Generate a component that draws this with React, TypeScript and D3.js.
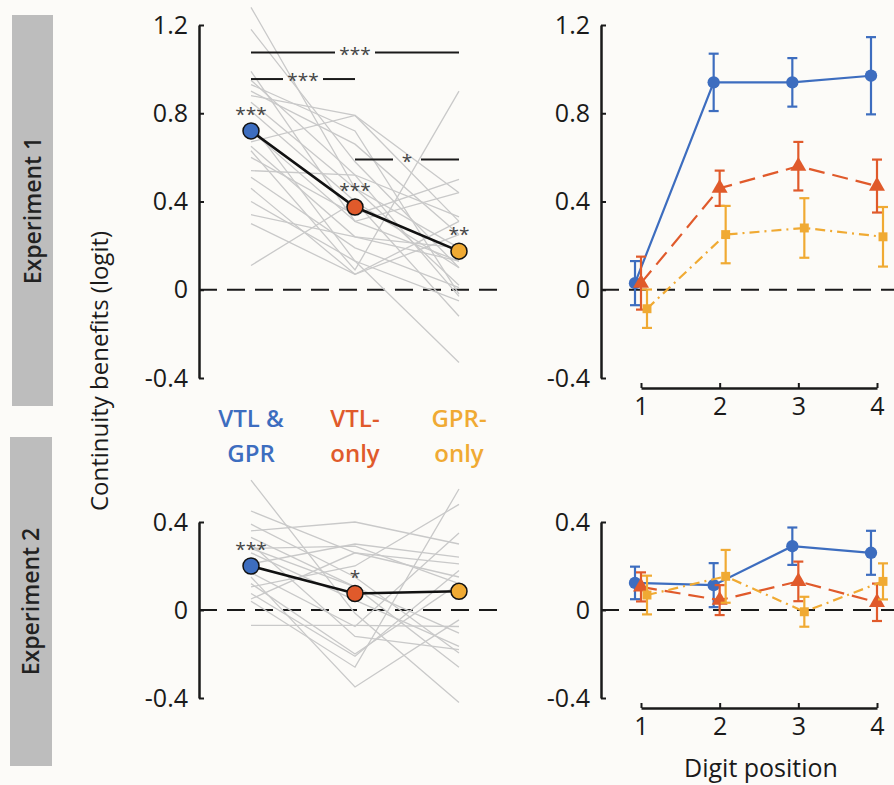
import React, { useEffect, useRef } from 'react';
import * as d3 from 'd3';

// Continuity benefits — two experiments, per-condition means (left) and by digit position (right)

const conditions = ['VTL & GPR', 'VTL-only', 'GPR-only'];
const conditionLines = [['VTL &', 'GPR'], ['VTL-', 'only'], ['GPR-', 'only']];
const conditionColors = ['#3d6dbf', '#e05a2b', '#f0aa33'];
const digitPositions = [1, 2, 3, 4];
const yTicksTop = [-0.4, 0, 0.4, 0.8, 1.2];
const yTicksBottom = [-0.4, 0, 0.4];
const experimentNames = ['Experiment 1', 'Experiment 2'];

// Experiment 1, condition means + significance vs zero
const exp1Means = [0.72, 0.375, 0.175];
const exp1Stars = ['***', '***', '**'];
// pairwise comparisons: [from, to, y, label]
const exp1Pairs: [number, number, number, string][] = [
  [0, 2, 1.075, '***'],
  [0, 1, 0.955, '***'],
  [1, 2, 0.59, '*'],
];
// individual participants (VTL&GPR, VTL-only, GPR-only)
const exp1Subjects = [
  [1.28, 0.46, 0.19], [1.18, 0.58, 0.1], [0.99, 0.31, 0.13], [0.93, 0.72, -0.02],
  [0.9, 0.66, 0.25], [0.88, 0.79, 0.31], [0.81, 0.4, -0.12], [0.95, 0.52, 0.33],
  [0.67, 0.79, 0.44], [0.65, 0.24, 0.13], [0.63, 0.09, 0.9], [0.6, 0.34, 0.5],
  [0.54, 0.52, -0.03], [0.51, 0.19, 0.01], [0.46, 0.07, 0.31], [0.4, 0.13, -0.33],
  [0.34, 0.24, 0.19], [0.3, 0.07, 0.25], [0.11, 0.4, 0.1], [0.72, 0.31, 0.44],
  [0.85, 0.46, 0.02], [0.75, 0.13, -0.05],
];

// Experiment 2
const exp2Means = [0.2, 0.075, 0.085];
const exp2Stars = ['***', '*', ''];
const exp2Pairs: [number, number, number, string][] = [];
const exp2Subjects = [
  [0.59, -0.015, -0.42], [0.45, 0.26, 0.21], [0.39, 0.15, -0.195], [0.36, 0.4, 0.3],
  [0.33, 0.105, -0.26], [0.28, 0.29, 0.12], [0.26, 0.045, -0.165], [0.21, 0.3, 0.24],
  [0.17, -0.075, 0.35], [0.105, 0.2, 0.48], [0.075, -0.21, 0.18], [0.04, -0.26, 0.55],
  [-0.07, -0.07, -0.075], [0.15, -0.35, -0.045], [0.28, 0.105, -0.105], [0.05, 0.26, 0.15],
  [0.3, -0.12, -0.18], [0.12, -0.2, 0.12],
];

// By digit position: mean and half error bar
const exp1VtlGpr = [0.03, 0.94, 0.94, 0.97];
const exp1VtlGprErr = [0.1, 0.13, 0.11, 0.175];
const exp1VtlOnly = [0.03, 0.46, 0.56, 0.47];
const exp1VtlOnlyErr = [0.12, 0.08, 0.11, 0.12];
const exp1GprOnly = [-0.086, 0.25, 0.28, 0.24];
const exp1GprOnlyErr = [0.087, 0.13, 0.135, 0.135];

const exp2VtlGpr = [0.123, 0.113, 0.29, 0.26];
const exp2VtlGprErr = [0.074, 0.1, 0.085, 0.1];
const exp2VtlOnly = [0.105, 0.045, 0.13, 0.035];
const exp2VtlOnlyErr = [0.066, 0.068, 0.09, 0.085];
const exp2GprOnly = [0.068, 0.153, -0.008, 0.13];
const exp2GprOnlyErr = [0.088, 0.12, 0.068, 0.082];

const FONT = '"Open Sans", "Noto Sans", sans-serif';
const INK = '#1a1a1a';

export default function App() {
  const svgRef = useRef<SVGSVGElement>(null);

  useEffect(() => {
    document.body.style.margin = '0';
    const width = 894, height = 785;
    const svg = d3.select(svgRef.current).attr('width', width).attr('height', height);
    svg.selectAll('*').remove();
    svg.append('rect').attr('width', width).attr('height', height).attr('fill', '#fcfbf8');

    const xCat = d3.scalePoint<string>().domain(conditions).range([251, 459]);
    const xDigit = d3.scaleLinear().domain([1, 4]).range([641, 877]);
    const digitOffset = [-6, 0, 6];
    const leftAxisX = 199, rightAxisX = 601;

    const panels = [
      {
        y: d3.scaleLinear().domain([-0.4, 1.2]).range([378, 25]), ticks: yTicksTop,
        subjects: exp1Subjects, means: exp1Means, stars: exp1Stars, pairs: exp1Pairs,
        series: [[exp1VtlGpr, exp1VtlGprErr], [exp1VtlOnly, exp1VtlOnlyErr], [exp1GprOnly, exp1GprOnlyErr]],
        box: [12, 15, 41, 391],
      },
      {
        y: d3.scaleLinear().domain([-0.4, 0.4]).range([698, 522]), ticks: yTicksBottom,
        subjects: exp2Subjects, means: exp2Means, stars: exp2Stars, pairs: exp2Pairs,
        series: [[exp2VtlGpr, exp2VtlGprErr], [exp2VtlOnly, exp2VtlOnlyErr], [exp2GprOnly, exp2GprOnlyErr]],
        box: [10, 437, 42, 329],
      },
    ];

    const styleAxis = (sel: any) => {
      sel.select('.domain').attr('stroke', INK).attr('stroke-width', 2.5);
      sel.selectAll('.tick line').attr('stroke', INK).attr('stroke-width', 2);
      sel.selectAll('.tick text').attr('fill', INK).attr('font-size', 25).attr('font-family', FONT);
    };
    const fmt = (d: number) => (d === 0 ? '0' : d.toFixed(1));

    panels.forEach((p, pi) => {
      const y = p.y;

      // experiment side box
      const [bx, by, bw, bh] = p.box;
      svg.append('rect').attr('x', bx).attr('y', by).attr('width', bw).attr('height', bh).attr('fill', '#bdbdbd');
      svg.append('text')
        .attr('transform', `translate(${bx + bw / 2 + 8},${by + bh / 2}) rotate(-90)`)
        .attr('text-anchor', 'middle').attr('font-family', FONT).attr('font-size', 23).attr('font-weight', 600)
        .attr('fill', '#222').text(experimentNames[pi]);

      // ---------- left panel ----------
      const gl = svg.append('g');
      gl.append('line').attr('x1', leftAxisX).attr('x2', 499).attr('y1', y(0)).attr('y2', y(0))
        .attr('stroke', INK).attr('stroke-width', 2).attr('stroke-dasharray', '18 10');

      const subjLine = d3.line<number>().x((_, i) => xCat(conditions[i])!).y(d => y(d));
      gl.selectAll('.subj').data(p.subjects).join('path').attr('class', 'subj')
        .attr('d', d => subjLine(d)).attr('fill', 'none').attr('stroke', '#c9c9c9').attr('stroke-width', 1.3);

      const ax = gl.append('g').attr('transform', `translate(${leftAxisX},0)`)
        .call(d3.axisLeft(y).tickValues(p.ticks).tickFormat(fmt as any).tickSizeInner(-5).tickSizeOuter(0).tickPadding(11));
      styleAxis(ax);

      // pairwise bars
      p.pairs.forEach(([a, b, v, lab]) => {
        const x1 = xCat(conditions[a])!, x2 = xCat(conditions[b])!;
        const mid = (x1 + x2) / 2, half = lab.length * 3 + 11;
        gl.append('line').attr('x1', x1).attr('x2', mid - half).attr('y1', y(v)).attr('y2', y(v))
          .attr('stroke', INK).attr('stroke-width', 2);
        gl.append('line').attr('x1', mid + half).attr('x2', x2).attr('y1', y(v)).attr('y2', y(v))
          .attr('stroke', INK).attr('stroke-width', 2);
        gl.append('text').attr('x', mid).attr('y', y(v) + 8).attr('text-anchor', 'middle')
          .attr('font-family', FONT).attr('font-size', 19).attr('fill', '#444').text(lab);
      });

      // mean line + markers
      const meanLine = d3.line<number>().x((_, i) => xCat(conditions[i])!).y(d => y(d));
      gl.append('path').attr('d', meanLine(p.means)).attr('fill', 'none').attr('stroke', '#111').attr('stroke-width', 2.6);
      gl.selectAll('.mean').data(p.means).join('circle').attr('class', 'mean')
        .attr('cx', (_, i) => xCat(conditions[i])!).attr('cy', d => y(d)).attr('r', 8)
        .attr('fill', (_, i) => conditionColors[i]).attr('stroke', '#111').attr('stroke-width', 1.5);
      gl.selectAll('.star').data(p.stars).join('text').attr('class', 'star')
        .attr('x', (_, i) => xCat(conditions[i])!).attr('y', (d, i) => y(p.means[i]) - 10)
        .attr('text-anchor', 'middle').attr('font-family', FONT).attr('font-size', 19).attr('fill', '#444')
        .text(d => d);

      // ---------- right panel ----------
      const gr = svg.append('g');
      gr.append('line').attr('x1', rightAxisX).attr('x2', width).attr('y1', y(0)).attr('y2', y(0))
        .attr('stroke', INK).attr('stroke-width', 2).attr('stroke-dasharray', '18 10');

      const ayr = gr.append('g').attr('transform', `translate(${rightAxisX},0)`)
        .call(d3.axisLeft(y).tickValues(p.ticks).tickFormat(fmt as any).tickSizeInner(-5).tickSizeOuter(0).tickPadding(11));
      styleAxis(ayr);

      const axisY = y.range()[0] + 10;
      const axr = gr.append('g').attr('transform', `translate(0,${axisY})`)
        .call(d3.axisBottom(xDigit).tickValues(digitPositions).tickFormat(d3.format('d') as any)
          .tickSizeInner(-5).tickSizeOuter(0).tickPadding(9));
      styleAxis(axr);

      const dashes = [null, '16 8', '10 5 2 5'];
      p.series.forEach(([vals, errs], si) => {
        const color = conditionColors[si];
        const xs = (i: number) => xDigit(digitPositions[i]) + digitOffset[si];
        const line = d3.line<number>().x((_, i) => xs(i)).y(d => y(d));
        gr.append('path').attr('d', line(vals)).attr('fill', 'none').attr('stroke', color)
          .attr('stroke-width', 2.2).attr('stroke-dasharray', dashes[si]);
        vals.forEach((v, i) => {
          const cx = xs(i), e = errs[i];
          gr.append('line').attr('x1', cx).attr('x2', cx).attr('y1', y(v - e)).attr('y2', y(v + e))
            .attr('stroke', color).attr('stroke-width', 2.2);
          [v - e, v + e].forEach(c => gr.append('line').attr('x1', cx - 5).attr('x2', cx + 5)
            .attr('y1', y(c)).attr('y2', y(c)).attr('stroke', color).attr('stroke-width', 2.2));
        });
        const sym = [d3.symbolCircle, d3.symbolTriangle, d3.symbolSquare][si];
        const size = [120, 110, 80][si];
        gr.selectAll(`.mk${si}`).data(vals).join('path').attr('class', `mk${si}`)
          .attr('transform', (d, i) => `translate(${xs(i)},${y(d)})`)
          .attr('d', d3.symbol().type(sym).size(size)() as string).attr('fill', color);
      });
    });

    // category labels between the left panels
    conditionLines.forEach((lines, i) => {
      const t = svg.append('text').attr('x', xCat(conditions[i])!).attr('text-anchor', 'middle')
        .attr('font-family', FONT).attr('font-size', 24).attr('font-weight', 600).attr('fill', conditionColors[i]);
      lines.forEach((l, k) => t.append('tspan').attr('x', xCat(conditions[i])!).attr('y', 427 + k * 35).text(l));
    });

    // y label
    svg.append('text').attr('transform', `translate(108,371) rotate(-90)`).attr('text-anchor', 'middle')
      .attr('font-family', FONT).attr('font-size', 24).attr('fill', INK).text('Continuity benefits (logit)');

    // x label
    svg.append('text').attr('x', 761).attr('y', 777).attr('text-anchor', 'middle')
      .attr('font-family', FONT).attr('font-size', 25).attr('fill', INK).text('Digit position');
  }, []);

  return <svg ref={svgRef} style={{ display: 'block' }} />;
}
